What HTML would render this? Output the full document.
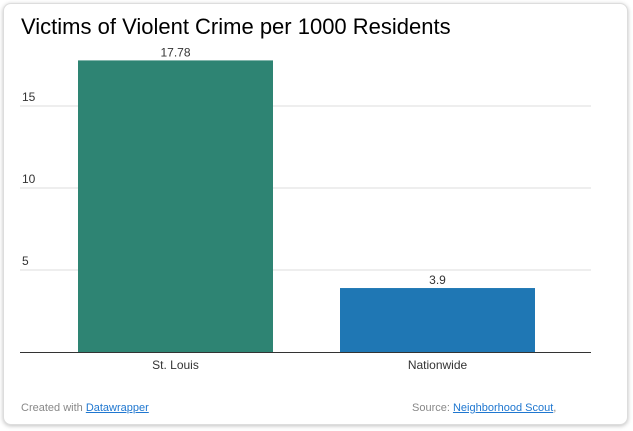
<!DOCTYPE html>
<html><head><meta charset="utf-8"><style>
body{margin:0;background:#fff;font-family:"Liberation Sans",Arial,sans-serif;}
#card{position:absolute;left:3px;top:3px;width:623px;height:420px;border:1px solid #ddd;border-radius:8px;box-shadow:0 1px 4px rgba(0,0,0,.25);background:#fff;}
h1{position:absolute;left:21px;top:14px;margin:0;font-weight:normal;font-size:22px;color:#000;}
.foot{position:absolute;top:402px;font-size:11px;color:#888;}
.foot a{color:#1f77d0;text-decoration:underline;}
</style></head><body>
<div id="card"></div>
<h1>Victims of Violent Crime per 1000 Residents</h1>
<svg id="chart" width="633" height="431" style="position:absolute;left:0;top:0"></svg>
<div class="foot" style="left:21px">Created with <a>Datawrapper</a></div>
<div class="foot" style="left:412px">Source: <a>Neighborhood Scout</a>,</div>
<script>
const categories=["St. Louis","Nationwide"];
const values=[17.78,3.9];
const valueLabels=["17.78","3.9"];
const ticks=[5,10,15];
const colors=["#2e8473","#1f77b4"];
const svg=document.getElementById('chart');const NS="http://www.w3.org/2000/svg";
const y0=352,pxPer=16.4;
const y=v=>y0-v*pxPer;
const bandL=[78,340],bw=195;
function mk(t,a,txt){const e=document.createElementNS(NS,t);for(const k in a)e.setAttribute(k,a[k]);if(txt!==undefined)e.textContent=txt;svg.appendChild(e);return e;}
ticks.forEach(t=>{
 const l=mk('line',{x1:20,x2:591,y1:y(t),y2:y(t),stroke:'#ddd'});
 
 
 const tx=mk('text',{x:22,y:y(t)-5,'font-size':12,fill:'#333'},String(t));
 
 
});
categories.forEach((c,i)=>{
 const x=bandL[i];
 const r=mk('rect',{x:x,y:y(values[i]),width:bw,height:y0-y(values[i]),fill:colors[i]});
 
 
 const v=mk('text',{x:x+bw/2,y:y(values[i])-4,'font-size':12,fill:'#333','text-anchor':'middle'},valueLabels[i]);
 
 
 const cl=mk('text',{x:x+bw/2,y:369,'font-size':12,fill:'#333','text-anchor':'middle'},c);
 
 
});
const ax=mk('line',{x1:20,x2:591,y1:y0+0.5,y2:y0+0.5,stroke:'#333'});


</script>
</body></html>
